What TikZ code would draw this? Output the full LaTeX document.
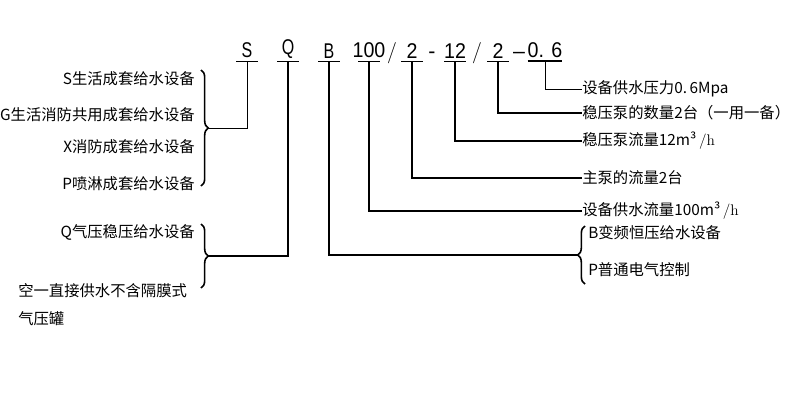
\documentclass[tikz,border=0pt]{standalone}
\usepackage{fontspec}
\newfontfamily\cjk{Noto Sans CJK SC}
\newfontfamily\codefont{Liberation Sans}
\usetikzlibrary{decorations.pathreplacing}

\begin{document}
\begin{tikzpicture}[x=0.75pt,y=-0.75pt,
	txt/.style={font=\cjk\fontsize{11.5}{13}\selectfont, inner sep=0pt},
	code/.style={font=\codefont\fontsize{16}{18}\selectfont, inner xsep=0pt, inner ysep=2pt, anchor=south},
	sep/.style={font=\fontsize{16}{18}\selectfont, inner sep=0pt, anchor=base},
	thinline/.style={line width=0.6pt},
	thickline/.style={line width=1.4pt},
	curly/.style={decorate, decoration={brace, amplitude=5.5pt}, line width=1.2pt}]

	\useasboundingbox (0,0) rectangle (800,400);

	% code
	\node[code] (cS) at (247,61) {\scalebox{0.75}[1]{S}};
	\node[code] (cQ) at (288,61) {\scalebox{0.75}[1]{Q}};
	\node[code] (cB) at (329,61) {\scalebox{0.75}[1]{B}};
	\node[code] (c100) at (369,61) {\scalebox{0.92}[1]{100}};
	\node[sep] (s1) at (392,58) {/};
	\node[code] (c2a) at (412,61) {\scalebox{0.92}[1]{2}};
	\node[sep] (s2) at (432,58) {\codefont -};
	\node[code] (c12) at (455,61) {\scalebox{0.92}[1]{12}};
	\node[sep] (s3) at (477,58) {/};
	\node[code] (c2b) at (498,61) {\scalebox{0.92}[1]{2}};
	\node[sep] (s4) at (519,58) {\codefont\textendash};
	\node[code] (c06) at (545,61) {\scalebox{0.92}[1]{0. 6}};

	% underlines
	\foreach \n in {cS,cQ,cB,c100,c2a,c12,c2b}
		\draw[thinline] ([xshift=-8.25pt]\n.south) -- ([xshift=8.25pt]\n.south);
	\draw[line width=1.5pt] ([xshift=-13pt]c06.south) -- ([xshift=13pt]c06.south);

	% left texts
	\node[txt, anchor=east] (lS) at (195,79) {S生活成套给水设备};
	\node[txt, anchor=east] (lG) at (195,115) {G生活消防共用成套给水设备};
	\node[txt, anchor=east] (lX) at (195,147) {X消防成套给水设备};
	\node[txt, anchor=east] (lP) at (195,184) {P喷淋成套给水设备};
	\node[txt, anchor=east] (lQ) at (195,232) {Q气压稳压给水设备};
	\node[txt, anchor=west] (lK) at (18,291) {空一直接供水不含隔膜式};
	\node[txt, anchor=west] (lK2) at (18,319) {气压罐};

	% right texts
	\node[txt, anchor=west] (t06) at (582,89) {设备供水压力0.\,6Mpa};
	\node[txt, anchor=west] (t2b) at (582,113) {稳压泵的数量2台（一用一备）};
	\node[txt, anchor=west] (t12) at (582,141) {稳压泵流量12m³\,{\normalfont/h}};
	\node[txt, anchor=west] (t2a) at (582,178) {主泵的流量2台};
	\node[txt, anchor=west] (t100) at (582,211) {设备供水流量100m³\,{\normalfont/h}};
	\node[txt, anchor=west] (tB) at (588,233) {B变频恒压给水设备};
	\node[txt, anchor=west] (tP) at (588,270) {P普通电气控制};

	% braces
	\draw[curly] (201,70) -- (201,186);
	\coordinate (b1) at (208,128);
	\draw[curly] (201,224) -- (201,288);
	\coordinate (b2) at (208,256);
	\draw[curly] (585,284) -- (585,226);
	\coordinate (b3) at (578,255);

	% connectors
	\draw[thinline] (cS.south) |- (b1);
	\draw[thickline] (cQ.south) |- (b2);
	\draw[thickline] (cB.south) |- (b3);
	\draw[thickline] (c100.south) |- (t100.west);
	\draw[thickline] (c2a.south) |- (t2a.west);
	\draw[thickline] (c12.south) |- (t12.west);
	\draw[thickline] (c2b.south) |- (t2b.west);
	\draw[thinline] (c06.south) |- (t06.west);

\end{tikzpicture}
\end{document}
